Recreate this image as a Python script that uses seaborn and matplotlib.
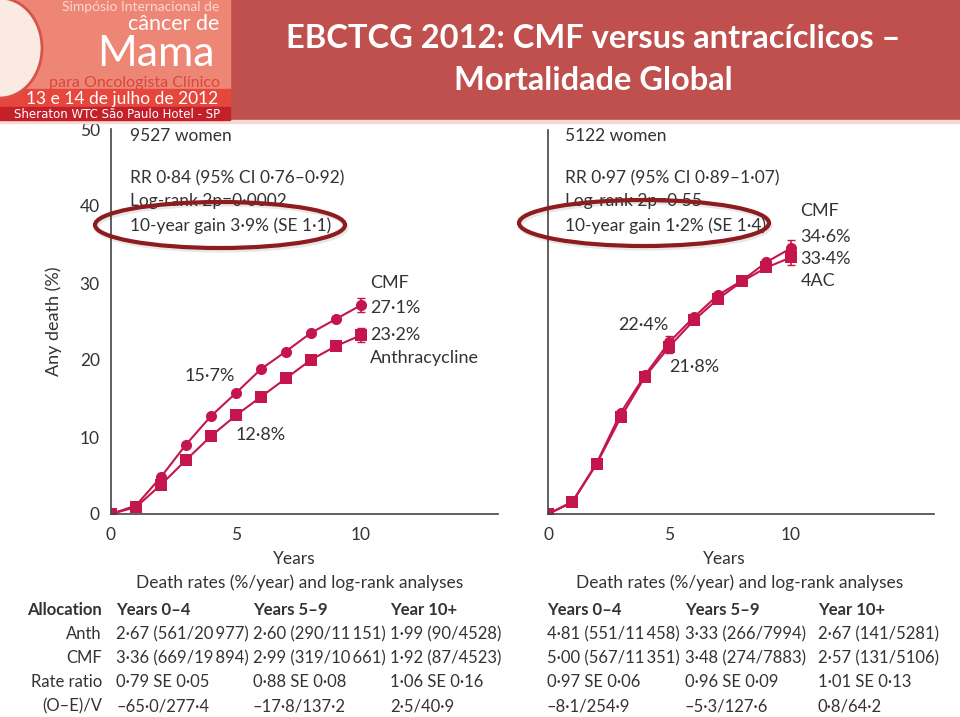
import matplotlib
matplotlib.use("Agg")
import matplotlib.pyplot as plt
from matplotlib.patches import Rectangle, Ellipse
import pandas as pd
import seaborn as sns

# --- Data ---
years = [0, 1, 2, 3, 4, 5, 6, 7, 8, 9, 10]

# left panel: anthracycline vs CMF (9527 women)
left_cmf = [0, 1.1, 4.8, 9.0, 12.7, 15.7, 18.8, 21.1, 23.5, 25.3, 27.1]
left_anth = [0, 0.9, 3.8, 7.0, 10.1, 12.8, 15.2, 17.6, 20.0, 21.8, 23.2]
left_se10 = [0.9, 0.9]  # CMF, Anth at year 10

# right panel: 4AC vs CMF (5122 women)
right_cmf = [0, 1.6, 6.6, 13.2, 18.1, 22.4, 25.6, 28.5, 30.4, 32.8, 34.6]
right_4ac = [0, 1.5, 6.5, 12.6, 17.9, 21.8, 25.2, 28.0, 30.3, 32.1, 33.4]
right_se10 = [1.1, 1.0]
right_se5 = [0.8, 0.8]

left_stats = ["9527 women", "RR 0·84 (95% CI 0·76–0·92)",
              "Log-rank 2p=0·0002", "10-year gain 3·9% (SE 1·1)"]
right_stats = ["5122 women", "RR 0·97 (95% CI 0·89–1·07)",
               "Log-rank 2p=0·55", "10-year gain 1·2% (SE 1·4)"]

table_cols = ["Years 0–4", "Years 5–9", "Year 10+"]
row_labels = ["Anth", "CMF", "Rate ratio", "(O–E)/V"]
left_table = [
    ["2·67 (561/20\u2009977)", "2·60 (290/11\u2009151)", "1·99 (90/4528)"],
    ["3·36 (669/19\u2009894)", "2·99 (319/10\u2009661)", "1·92 (87/4523)"],
    ["0·79 SE 0·05", "0·88 SE 0·08", "1·06 SE 0·16"],
    ["–65·0/277·4", "–17·8/137·2", "2·5/40·9"],
]
right_table = [
    ["4·81 (551/11\u2009458)", "3·33 (266/7994)", "2·67 (141/5281)"],
    ["5·00 (567/11\u2009351)", "3·48 (274/7883)", "2·57 (131/5106)"],
    ["0·97 SE 0·06", "0·96 SE 0·09", "1·01 SE 0·13"],
    ["–8·1/254·9", "–5·3/127·6", "0·8/64·2"],
]

LINE = "#C4164C"
INK = "#333333"
HEADER = "#C0504D"
W, H = 960, 717
FS = 12.5

sns.set_style("white")
plt.rcParams["font.family"] = ["Lato", "DejaVu Sans"]
plt.rcParams["text.color"] = INK
plt.rcParams["axes.labelcolor"] = INK
plt.rcParams["xtick.color"] = INK
plt.rcParams["ytick.color"] = INK

fig = plt.figure(figsize=(9.6, 7.17), dpi=100)

# overlay in pixel coordinates for header, texts and tables
ov = fig.add_axes([0, 0, 1, 1], zorder=5)
ov.set_xlim(0, W)
ov.set_ylim(H, 0)
ov.axis("off")
ov.patch.set_alpha(0)


def px_axes(x0, x1, y0, y1):
    return fig.add_axes([x0 / W, 1 - y1 / H, (x1 - x0) / W, (y1 - y0) / H])


def fmt(v):
    return f"{v:.1f}%".replace(".", "·")


def draw_panel(ax, cmf, other, other_name, xmax, se10):
    df = pd.DataFrame({
        "year": years * 2,
        "death": cmf + other,
        "arm": ["CMF"] * len(years) + [other_name] * len(years),
    })
    sns.lineplot(data=df, x="year", y="death", hue="arm", style="arm",
                 palette=[LINE, LINE], markers=["o", "s"], dashes=False,
                 markersize=8, markeredgewidth=0, linewidth=1.5,
                 legend=False, ax=ax)
    ax.errorbar([10, 10], [cmf[-1], other[-1]], yerr=se10, fmt="none",
                ecolor=LINE, elinewidth=1.2, capsize=3)
    ax.set_xlim(0, xmax)
    ax.set_ylim(0, 50)
    ax.set_xticks([0, 5, 10])
    ax.set_yticks([0, 10, 20, 30, 40, 50])
    ax.tick_params(axis="x", direction="in", length=5, width=1.2,
                   labelsize=FS, pad=9)
    ax.tick_params(axis="y", direction="out", length=6, width=1.2,
                   labelsize=FS, pad=2)
    for s in ["top", "right"]:
        ax.spines[s].set_visible(False)
    for s in ["left", "bottom"]:
        ax.spines[s].set_color("#444444")
        ax.spines[s].set_linewidth(1.2)
    ax.set_xlabel("")
    ax.set_ylabel("")
    ax.patch.set_alpha(0)


axL = px_axes(111, 498, 129, 514)
draw_panel(axL, left_cmf, left_anth, "Anth", 15.5, left_se10)
axL.set_ylabel("Any death (%)", fontsize=13, labelpad=13)

axR = px_axes(548, 934, 130, 514)
draw_panel(axR, right_cmf, right_4ac, "4AC", 15.9, right_se10)
axR.errorbar([5, 5], [right_cmf[5], right_4ac[5]], yerr=right_se5, fmt="none",
             ecolor=LINE, elinewidth=1.2, capsize=3)
axR.set_yticklabels([])

lab = dict(fontsize=13, va="center", textcoords="offset points")
# left panel end / mid labels
axL.annotate("CMF", (10, left_cmf[-1]), xytext=(7, 16), **lab)
axL.annotate(fmt(left_cmf[-1]), (10, left_cmf[-1]), xytext=(7, -2), **lab)
axL.annotate(fmt(left_anth[-1]), (10, left_anth[-1]), xytext=(7, 0), **lab)
axL.annotate("Anthracycline", (10, left_anth[-1]), xytext=(7, -16), **lab)
axL.annotate(fmt(left_cmf[5]), (5, left_cmf[5]), xytext=(-1, 12), ha="right", **lab)
axL.annotate(fmt(left_anth[5]), (5, left_anth[5]), xytext=(0, -14), ha="left", **lab)
# right panel
axR.annotate("CMF", (10, right_cmf[-1]), xytext=(7, 27), **lab)
axR.annotate(fmt(right_cmf[-1]), (10, right_cmf[-1]), xytext=(7, 8), **lab)
axR.annotate(fmt(right_4ac[-1]), (10, right_4ac[-1]), xytext=(7, -1), **lab)
axR.annotate("4AC", (10, right_4ac[-1]), xytext=(7, -17), **lab)
axR.annotate(fmt(right_cmf[5]), (5, right_cmf[5]), xytext=(-1, 12), ha="right", **lab)
axR.annotate(fmt(right_4ac[5]), (5, right_4ac[5]), xytext=(0, -15), ha="left", **lab)

# stats text blocks
for x0, lines in [(130, left_stats), (565, right_stats)]:
    for y, t in zip([136, 178, 201, 226], lines):
        ov.text(x0, y, t, fontsize=FS, va="center", ha="left")

# axis titles under the panels
for xc, xc2 in [(294, 300), (724, 740)]:
    ov.text(xc, 559, "Years", fontsize=FS, ha="center", va="center")
    ov.text(xc2, 583, "Death rates (%/year) and log-rank analyses",
            fontsize=FS, ha="center", va="center")

# highlight ellipses
for cx, cy in [(220, 225), (644, 223)]:
    ov.add_patch(Ellipse((cx + 1.5, cy + 2.5), 250, 46, fill=False,
                         ec="#00000018", lw=3, zorder=6))
    ov.add_patch(Ellipse((cx, cy), 250, 46, fill=False,
                         ec="#8E1B1E", lw=3, zorder=7))

# tables
TFS = 12
rows_y = [610, 634, 658, 682, 706]
ov.text(102, rows_y[0], "Allocation", fontsize=TFS, fontweight="bold",
        ha="right", va="center")
for i, r in enumerate(row_labels):
    ov.text(102, rows_y[i + 1], r, fontsize=TFS, ha="right", va="center")
for cols_x, table in [([116, 253, 390], left_table), ([547, 685, 818], right_table)]:
    for x, c in zip(cols_x, table_cols):
        ov.text(x, rows_y[0], c, fontsize=TFS, fontweight="bold",
                ha="left", va="center")
    for i, row in enumerate(table):
        for x, cell in zip(cols_x, row):
            ov.text(x, rows_y[i + 1], cell, fontsize=TFS, ha="left", va="center")

# --- header band and logo ---
ov.add_patch(Rectangle((0, 0), W, 120, color=HEADER, zorder=1))
ov.add_patch(Rectangle((0, 120), W, 3, color="#F6D9D4", zorder=1))
ov.add_patch(Rectangle((0, 0), 230, 89, color="#EE8676", zorder=1))
ov.add_patch(Rectangle((0, 89), 230, 18, color="#E5473C", zorder=1))
ov.add_patch(Rectangle((0, 107), 230, 13, color="#C4202A", zorder=1))
ov.add_patch(Ellipse((0, 48), 84, 100, fc="#FBEAE2", ec="#D8524A", lw=2, zorder=2))

logo_font = ["Lato", "DejaVu Sans"]
ov.text(219, 11, "Simpósio Internacional de", fontsize=10, color="#FBD8CF",
        ha="right", va="baseline", family=logo_font, zorder=3)
ov.text(219, 30, "câncer de", fontsize=15.5, color="white", ha="right",
        va="baseline", family=logo_font, zorder=3)
ov.text(215, 66, "Mama", fontsize=31, color="white", ha="right",
        va="baseline", family=logo_font, zorder=3)
ov.text(220, 87, "para Oncologista Clínico", fontsize=11.5, color="#D9473F",
        ha="right", va="baseline", family=logo_font, zorder=3)
ov.text(218, 104, "13 e 14 de julho de 2012", fontsize=12.5, color="white",
        ha="right", va="baseline", family=logo_font, zorder=3)
ov.text(220, 118, "Sheraton WTC São Paulo Hotel - SP", fontsize=8.5, color="white",
        ha="right", va="baseline", family=["DejaVu Sans"], zorder=3)

ov.text(593, 38, "EBCTCG 2012: CMF versus antracíclicos –", fontsize=23.5,
        fontweight="bold", color="white", ha="center", va="center",
        family=logo_font, zorder=3)
ov.text(593, 81, "Mortalidade Global", fontsize=23.5, fontweight="bold",
        color="white", ha="center", va="center", family=logo_font, zorder=3)

fig.savefig("out.png", dpi=100)
